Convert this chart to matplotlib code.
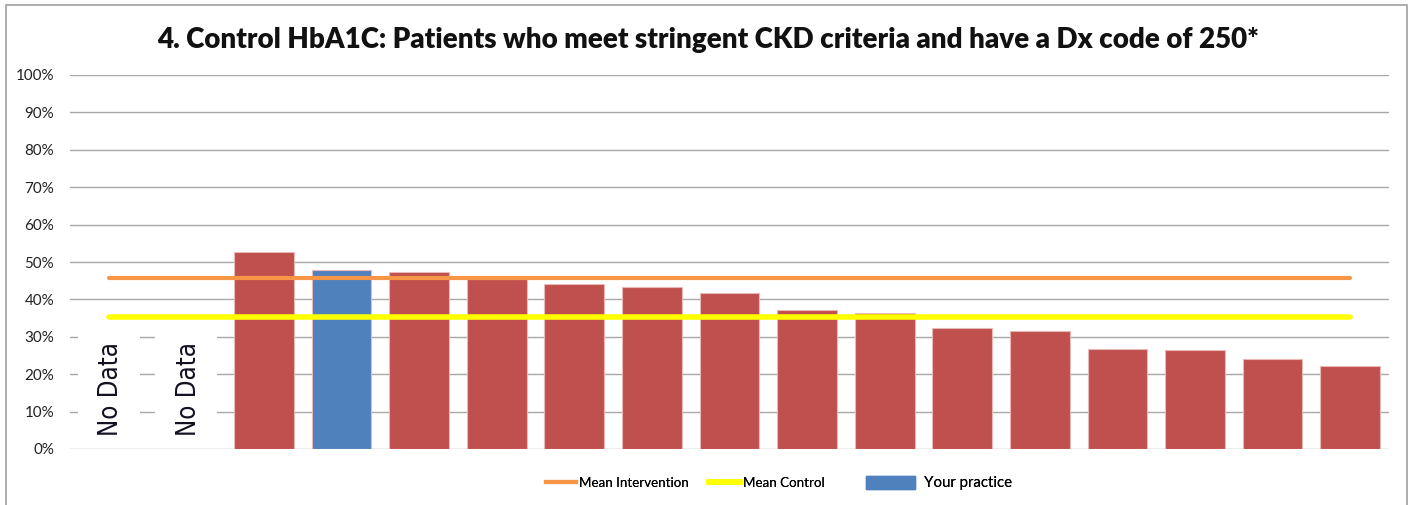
import matplotlib
matplotlib.use("Agg")
import matplotlib.pyplot as plt
from matplotlib.lines import Line2D
from matplotlib.patches import Patch, Rectangle
from matplotlib.ticker import PercentFormatter
import numpy as np

# ---- data ----
practices = ["P01", "P02", "P03", "P04", "P05", "P06", "P07", "P08", "P09",
             "P10", "P11", "P12", "P13", "P14", "P15", "P16", "P17"]
rates = [None, None, 0.526, 0.478, 0.474, 0.455, 0.440, 0.434, 0.418,
         0.371, 0.364, 0.324, 0.315, 0.267, 0.266, 0.240, 0.221]
your_practice = "P04"
mean_intervention = 0.458
mean_control = 0.353
yticks = [0, 0.1, 0.2, 0.3, 0.4, 0.5, 0.6, 0.7, 0.8, 0.9, 1.0]
title = "4. Control HbA1C: Patients who meet stringent CKD criteria and have a Dx code of 250*"

RED = "#C0504D"
BLUE = "#4F81BD"
ORANGE = "#F79646"
YELLOW = "#FFFF00"

W, H, DPI = 1409, 505, 100
fig = plt.figure(figsize=(W / DPI, H / DPI), dpi=DPI)
ax = fig.add_axes([70 / W, 1 - 449 / H, (1389 - 70) / W, (449 - 75) / H])

x = np.arange(len(practices))
for xi, name, v in zip(x, practices, rates):
    if v is None:
        ax.add_patch(Rectangle((xi - 0.4, 0.005), 0.8, 0.3, facecolor="white",
                               edgecolor="none", zorder=2))
        ax.text(xi + 0.03, 0.16, "No Data", rotation=90, ha="center", va="center",
                fontsize=18.5, color="#111122", fontstretch="condensed",
                family=["DejaVu Sans", "Liberation Sans"],
                zorder=3)
    else:
        ax.bar(xi, v, width=0.77, color=BLUE if name == your_practice else RED,
               edgecolor="#E8B8B7", linewidth=0.8, zorder=2)

ax.plot(x, [mean_intervention] * len(x), color=ORANGE, lw=3, zorder=4,
        solid_capstyle="round")
ax.plot(x, [mean_control] * len(x), color=YELLOW, lw=4, zorder=4,
        solid_capstyle="round")

ax.set_xlim(-0.5, len(x) - 0.5)
ax.set_ylim(0, 1.0)
ax.set_yticks(yticks)
ax.yaxis.set_major_formatter(PercentFormatter(1.0, decimals=0))
ax.set_xticks([])
ax.tick_params(axis="y", length=0, pad=11.5, labelsize=10.9, labelcolor="#222222")
for lbl in ax.get_yticklabels():
    lbl.set_family("Lato")
ax.grid(axis="y", color="#A8A8A8", lw=1, zorder=0)
ax.set_axisbelow(True)
for s in ax.spines.values():
    s.set_visible(False)

fig.text(0.5 * (163 + 1253) / W, 1 - 40 / H, title, ha="center", va="center",
         fontsize=20, fontweight="heavy", family="Lato", color="#111111")

# figure border
fig.add_artist(Rectangle((6 / W, -0.01), (1407 - 6) / W, 1 - 5 / H + 0.01,
                         transform=fig.transFigure, fill=False,
                         edgecolor="#A0A0A0", lw=1.2))

# legend: three single-entry legends placed along the bottom
leg_y = 1 - 483 / H
entries = [
    (Line2D([], [], color=ORANGE, lw=3), "Mean Intervention", 546, 9.6, 2.25, 0.7, 0.2),
    (Line2D([], [], color=YELLOW, lw=4), "Mean Control", 709, 9.6, 2.35, 0.7, 0.2),
    (Patch(color=BLUE), "Your practice", 866, 10.8, 3.27, 0.95, 0.6),
]
for handle, label, x0, fs, hl, hh, tp in entries:
    lg = fig.legend([handle], [label], loc="center left",
                    bbox_to_anchor=(x0 / W, leg_y), frameon=False,
                    borderpad=0, borderaxespad=0, handlelength=hl,
                    handleheight=hh, handletextpad=tp,
                    prop={"family": "Lato", "size": fs})
    fig.add_artist(lg)

fig.savefig("out.png", dpi=DPI)
